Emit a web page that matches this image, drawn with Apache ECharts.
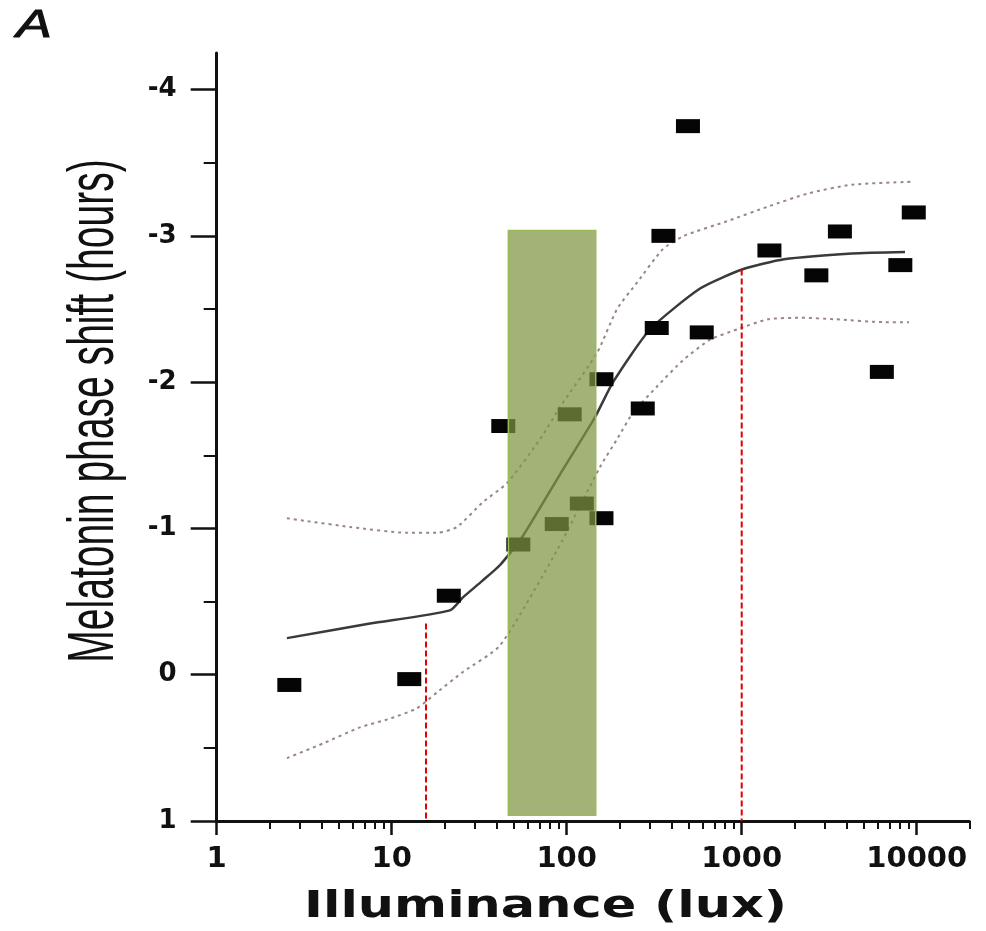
<!DOCTYPE html>
<html>
<head>
<meta charset="utf-8">
<script src="https://cdn.jsdelivr.net/npm/echarts@6/dist/echarts.min.js"></script>
<style>
  html, body { margin: 0; padding: 0; background: #ffffff; }
  #chart { width: 986px; height: 931px; }
</style>
</head>
<body>
<div id="chart"></div>
<script>
// Measured melatonin phase shifts versus illuminance
const pointLux   = [2.6, 12.6, 21.2, 43.4, 52.9, 87.7, 104, 122, 158, 158, 272, 327, 357, 493, 591, 1440, 2670, 3640, 6320, 8060, 9620];
const pointShift = [0.07, 0.03, -0.54, -1.70, -0.89, -1.03, -1.78, -1.17, -2.02, -1.07, -1.82, -2.37, -3.00, -3.75, -2.34, -2.90, -2.73, -3.03, -2.07, -2.80, -3.16];

// Fitted dose-response curve
const fitLux   = [2.52, 7.52, 21.5, 25.6, 32.8, 41.6, 55.6, 91.6, 145, 184, 299, 578, 1004, 1745, 4270, 8570];
const fitShift = [-0.25, -0.35, -0.44, -0.53, -0.64, -0.75, -0.94, -1.37, -1.76, -2.00, -2.36, -2.64, -2.77, -2.84, -2.88, -2.89];

// Upper confidence band
const upperLux   = [2.52, 3.28, 5.78, 12.2, 18.2, 23.6, 33.2, 45.6, 70.4, 91.6, 149, 194, 252, 355, 468, 824, 1413, 2393, 4270, 9400];
const upperShift = [-1.07, -1.05, -1.01, -0.97, -0.97, -1.01, -1.18, -1.31, -1.61, -1.83, -2.20, -2.50, -2.68, -2.91, -3.00, -3.10, -3.20, -3.29, -3.35, -3.37];

// Lower confidence band
const lowerLux   = [2.52, 4.05, 6.59, 9.78, 13.9, 18.2, 25.6, 41.6, 88.0, 155, 194, 239, 328, 462, 659, 940, 1413, 2182, 3414, 6590, 9040];
const lowerShift = [0.57, 0.47, 0.36, 0.30, 0.23, 0.12, -0.02, -0.20, -0.85, -1.42, -1.61, -1.79, -1.97, -2.15, -2.29, -2.36, -2.43, -2.44, -2.43, -2.41, -2.41];

// Reference illuminances (dashed red markers) and the shift where each meets the curve
const refLux      = [15.7, 1000];
const refShiftTop = [-0.35, -2.77];

// Shaded illuminance band (lux range and shift range)
const bandLux   = [46.4, 146.5];
const bandShift = [-3.036, 0.96];

// Axis ticks
const luxTicks   = [1, 10, 100, 1000, 10000];
const luxMinor   = [];
[1, 10, 100, 1000, 10000].forEach(function (d) {
  for (let k = 2; k <= 9; k++) { if (d * k <= 20000) luxMinor.push(d * k); }
});
const shiftTicks = [-4, -3, -2, -1, 0, 1];
const shiftMinor = [-3.5, -2.5, -1.5, -0.5, 0.5];

const pairs = function (xs, ys) { return xs.map(function (x, i) { return [x, ys[i]]; }); };

const chart = echarts.init(document.getElementById('chart'), null, { renderer: 'canvas' });

const tickFont = { fontFamily: 'DejaVu Sans', fontWeight: 'bold', color: '#111' };

const option = {
  backgroundColor: '#ffffff',
  animation: false,
  grid: { left: 216.7, right: 16.6, top: 53, bottom: 110, outerBoundsMode: 'none', containLabel: false },
  xAxis: [
    {
      type: 'log', logBase: 10, min: 1, max: 20000, position: 'bottom',
      axisLine: { show: true, onZero: false, lineStyle: { color: '#111', width: 3 } },
      axisTick: { show: true, inside: false, length: 14, customValues: luxTicks, lineStyle: { color: '#111', width: 2.5 } },
      axisLabel: Object.assign({ customValues: luxTicks, fontSize: 29, margin: 24, formatter: function (v) { return String(Math.round(v)); } }, tickFont),
      splitLine: { show: false }
    },
    {
      type: 'log', logBase: 10, min: 1, max: 20000, position: 'bottom', offset: 0,
      axisLine: { show: false, onZero: false },
      axisTick: { show: true, inside: false, length: 8, customValues: luxMinor, lineStyle: { color: '#111', width: 2 } },
      axisLabel: { show: false },
      splitLine: { show: false }
    }
  ],
  yAxis: [
    {
      type: 'value', min: -4.25, max: 1, inverse: true, position: 'left',
      axisLine: { show: true, onZero: false, lineStyle: { color: '#111', width: 3 } },
      axisTick: { show: true, inside: false, length: 26, customValues: shiftTicks, lineStyle: { color: '#111', width: 2.5 } },
      axisLabel: Object.assign({ customValues: shiftTicks, fontSize: 26, margin: 40, formatter: function (v) { return String(v); } }, tickFont),
      splitLine: { show: false }
    },
    {
      type: 'value', min: -4.25, max: 1, inverse: true, position: 'left', offset: 0,
      axisLine: { show: false, onZero: false },
      axisTick: { show: true, inside: false, length: 13, customValues: shiftMinor, lineStyle: { color: '#111', width: 2 } },
      axisLabel: { show: false },
      splitLine: { show: false }
    }
  ],
  graphic: [
    {
      type: 'text', x: 34, y: 26, scaleX: 1.4,
      style: { text: 'A', font: 'italic 38px "Liberation Sans"', fill: '#111', stroke: '#111', lineWidth: 1, align: 'center', verticalAlign: 'middle' }
    },
    {
      type: 'text', x: 95, y: 411, rotation: Math.PI / 2, scaleX: 0.61,
      style: { text: 'Melatonin phase shift (hours)', font: '64px "Liberation Sans"', fill: '#111', align: 'center', verticalAlign: 'middle' }
    },
    {
      type: 'text', x: 545.5, y: 907, scaleX: 1.34,
      style: { text: 'Illuminance (lux)', font: 'bold 38px "DejaVu Sans"', fill: '#111', align: 'center', verticalAlign: 'middle' }
    }
  ],
  series: [
    {
      name: 'upper', type: 'line', xAxisIndex: 0, yAxisIndex: 0, data: pairs(upperLux, upperShift),
      showSymbol: false, smooth: 0.2, z: 2,
      lineStyle: { color: '#9a8585', width: 2, type: [3, 4] }
    },
    {
      name: 'lower', type: 'line', xAxisIndex: 0, yAxisIndex: 0, data: pairs(lowerLux, lowerShift),
      showSymbol: false, smooth: 0.2, z: 2,
      lineStyle: { color: '#9a8585', width: 2, type: [3, 4] }
    },
    {
      name: 'fit', type: 'line', xAxisIndex: 0, yAxisIndex: 0, data: pairs(fitLux, fitShift),
      showSymbol: false, smooth: 0.2, z: 2,
      lineStyle: { color: '#3a3a3a', width: 2.5 }
    },
    {
      name: 'measured', type: 'scatter', xAxisIndex: 0, yAxisIndex: 0, data: pairs(pointLux, pointShift),
      symbol: 'rect', symbolSize: [24, 14], z: 3,
      itemStyle: { color: '#050505', opacity: 1 }
    },
    {
      name: 'band', type: 'custom', xAxisIndex: 0, yAxisIndex: 0, z: 4,
      data: [[bandLux[0], bandShift[0], bandLux[1], bandShift[1]]],
      renderItem: function (params, api) {
        const p0 = api.coord([api.value(0), api.value(1)]);
        const p1 = api.coord([api.value(2), api.value(3)]);
        return {
          type: 'rect',
          shape: { x: p0[0], y: p0[1], width: p1[0] - p0[0], height: p1[1] - p0[1] },
          style: { fill: 'rgba(128,150,68,0.72)', stroke: '#9bbb59', lineWidth: 1.5 }
        };
      }
    }
  ].concat(refLux.map(function (lx, i) {
    return {
      name: 'ref' + i, type: 'line', xAxisIndex: 0, yAxisIndex: 0, z: 4,
      data: [[lx, refShiftTop[i]], [lx, 1]],
      showSymbol: false,
      lineStyle: { color: '#e00000', width: 2, type: [6, 3] }
    };
  }))
};

chart.setOption(option);
</script>
</body>
</html>
